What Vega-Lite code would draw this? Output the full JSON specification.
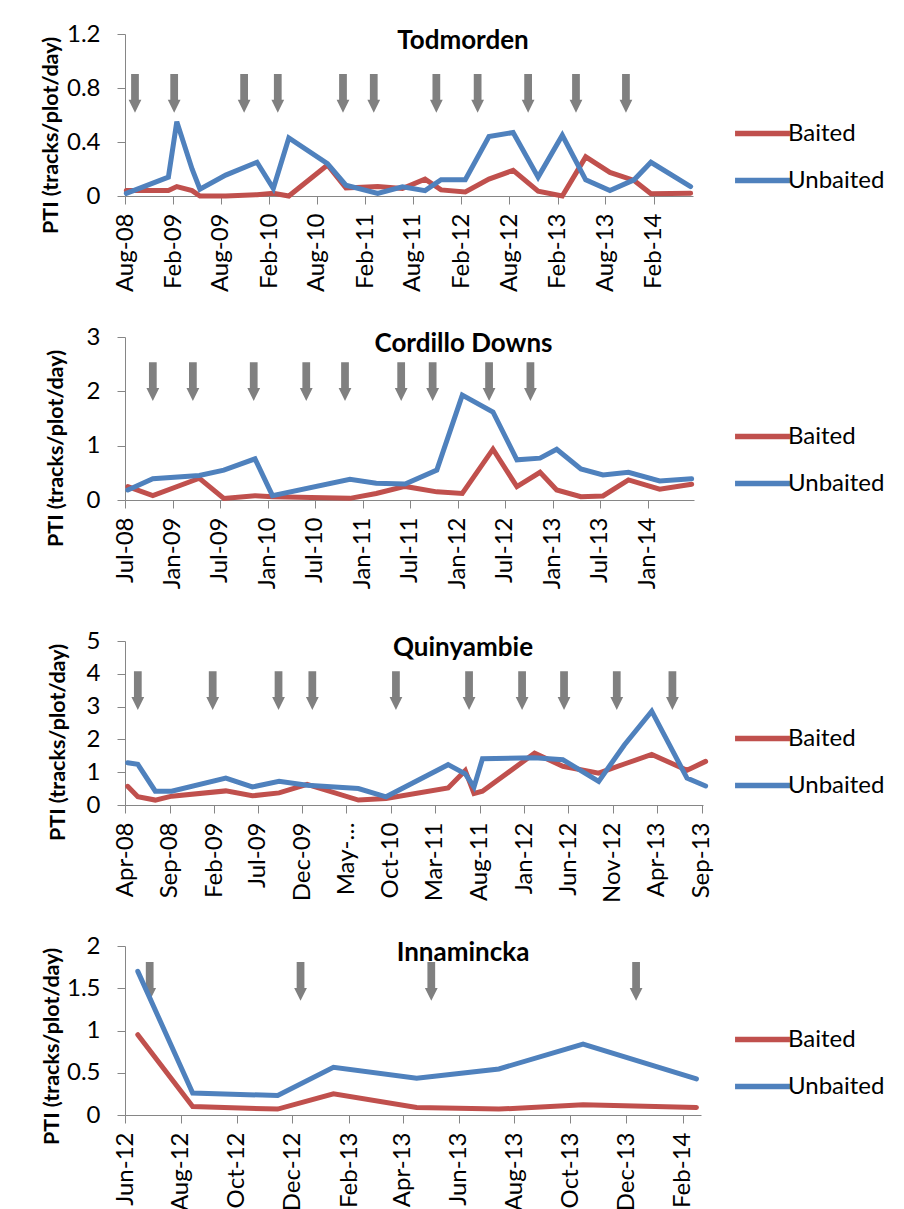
{
  "$schema": "https://vega.github.io/schema/vega-lite/v6.json",
  "background": "white",
  "padding": {"left": 39, "top": 22, "right": 5, "bottom": 5},
  "columns": 1,
  "bounds": "flush",
  "spacing": 141,
  "resolve": {"scale": {"color": "independent"}, "legend": {"color": "independent"}},
  "datasets": {
    "tod": [
      {"date": "2008-08-06", "series": "Baited", "pti": 0.04}, {"date": "2008-08-06", "series": "Unbaited", "pti": 0.02},
      {"date": "2009-01-13", "series": "Baited", "pti": 0.04}, {"date": "2009-01-13", "series": "Unbaited", "pti": 0.14},
      {"date": "2009-02-14", "series": "Baited", "pti": 0.07}, {"date": "2009-02-14", "series": "Unbaited", "pti": 0.55},
      {"date": "2009-04-13", "series": "Baited", "pti": 0.04}, {"date": "2009-04-13", "series": "Unbaited", "pti": 0.2},
      {"date": "2009-05-13", "series": "Baited", "pti": 0.0}, {"date": "2009-05-13", "series": "Unbaited", "pti": 0.05},
      {"date": "2009-08-19", "series": "Baited", "pti": 0.0}, {"date": "2009-08-19", "series": "Unbaited", "pti": 0.155},
      {"date": "2009-12-16", "series": "Baited", "pti": 0.01}, {"date": "2009-12-16", "series": "Unbaited", "pti": 0.25},
      {"date": "2010-02-16", "series": "Baited", "pti": 0.02}, {"date": "2010-02-16", "series": "Unbaited", "pti": 0.055},
      {"date": "2010-04-16", "series": "Baited", "pti": 0.0}, {"date": "2010-04-16", "series": "Unbaited", "pti": 0.43},
      {"date": "2010-09-10", "series": "Baited", "pti": 0.23}, {"date": "2010-09-10", "series": "Unbaited", "pti": 0.24},
      {"date": "2010-11-19", "series": "Baited", "pti": 0.06}, {"date": "2010-11-19", "series": "Unbaited", "pti": 0.08},
      {"date": "2011-03-20", "series": "Baited", "pti": 0.07}, {"date": "2011-03-20", "series": "Unbaited", "pti": 0.02},
      {"date": "2011-06-22", "series": "Baited", "pti": 0.055}, {"date": "2011-06-22", "series": "Unbaited", "pti": 0.068},
      {"date": "2011-09-16", "series": "Baited", "pti": 0.125}, {"date": "2011-09-16", "series": "Unbaited", "pti": 0.04},
      {"date": "2011-11-16", "series": "Baited", "pti": 0.045}, {"date": "2011-11-16", "series": "Unbaited", "pti": 0.12},
      {"date": "2012-02-16", "series": "Baited", "pti": 0.03}, {"date": "2012-02-16", "series": "Unbaited", "pti": 0.12},
      {"date": "2012-05-16", "series": "Baited", "pti": 0.125}, {"date": "2012-05-16", "series": "Unbaited", "pti": 0.44},
      {"date": "2012-08-16", "series": "Baited", "pti": 0.19}, {"date": "2012-08-16", "series": "Unbaited", "pti": 0.47},
      {"date": "2012-11-19", "series": "Baited", "pti": 0.035}, {"date": "2012-11-19", "series": "Unbaited", "pti": 0.14},
      {"date": "2013-02-19", "series": "Baited", "pti": 0.0}, {"date": "2013-02-19", "series": "Unbaited", "pti": 0.45},
      {"date": "2013-05-19", "series": "Baited", "pti": 0.29}, {"date": "2013-05-19", "series": "Unbaited", "pti": 0.12},
      {"date": "2013-08-19", "series": "Baited", "pti": 0.175}, {"date": "2013-08-19", "series": "Unbaited", "pti": 0.04},
      {"date": "2013-11-19", "series": "Baited", "pti": 0.115}, {"date": "2013-11-19", "series": "Unbaited", "pti": 0.12},
      {"date": "2014-01-22", "series": "Baited", "pti": 0.017}, {"date": "2014-01-22", "series": "Unbaited", "pti": 0.25},
      {"date": "2014-06-22", "series": "Baited", "pti": 0.02}, {"date": "2014-06-22", "series": "Unbaited", "pti": 0.07}
    ],
    "tod_arrows": [
      {"date": "2008-09-08"}, {"date": "2009-02-04"}, {"date": "2009-10-28"}, {"date": "2010-03-05"},
      {"date": "2010-11-08"}, {"date": "2011-03-05"}, {"date": "2011-10-29"}, {"date": "2012-04-03"},
      {"date": "2012-10-12"}, {"date": "2013-04-12"}, {"date": "2013-10-19"}
    ],
    "cor": [
      {"date": "2008-07-12", "series": "Baited", "pti": 0.245}, {"date": "2008-07-12", "series": "Unbaited", "pti": 0.185},
      {"date": "2008-10-16", "series": "Baited", "pti": 0.08}, {"date": "2008-10-16", "series": "Unbaited", "pti": 0.39},
      {"date": "2009-04-13", "series": "Baited", "pti": 0.4}, {"date": "2009-04-13", "series": "Unbaited", "pti": 0.45},
      {"date": "2009-07-16", "series": "Baited", "pti": 0.03}, {"date": "2009-07-16", "series": "Unbaited", "pti": 0.55},
      {"date": "2009-11-13", "series": "Baited", "pti": 0.08}, {"date": "2009-11-13", "series": "Unbaited", "pti": 0.757},
      {"date": "2010-01-19", "series": "Baited", "pti": 0.06}, {"date": "2010-01-19", "series": "Unbaited", "pti": 0.08},
      {"date": "2010-11-13", "series": "Baited", "pti": 0.03}, {"date": "2010-11-13", "series": "Unbaited", "pti": 0.38},
      {"date": "2011-02-22", "series": "Baited", "pti": 0.12}, {"date": "2011-02-22", "series": "Unbaited", "pti": 0.31},
      {"date": "2011-06-13", "series": "Baited", "pti": 0.25}, {"date": "2011-06-13", "series": "Unbaited", "pti": 0.295},
      {"date": "2011-10-13", "series": "Baited", "pti": 0.15}, {"date": "2011-10-13", "series": "Unbaited", "pti": 0.55},
      {"date": "2012-01-19", "series": "Baited", "pti": 0.12}, {"date": "2012-01-19", "series": "Unbaited", "pti": 1.93},
      {"date": "2012-05-16", "series": "Baited", "pti": 0.935}, {"date": "2012-05-16", "series": "Unbaited", "pti": 1.62},
      {"date": "2012-08-16", "series": "Baited", "pti": 0.245}, {"date": "2012-08-16", "series": "Unbaited", "pti": 0.74},
      {"date": "2012-11-13", "series": "Baited", "pti": 0.51}, {"date": "2012-11-13", "series": "Unbaited", "pti": 0.77},
      {"date": "2013-01-16", "series": "Baited", "pti": 0.185}, {"date": "2013-01-16", "series": "Unbaited", "pti": 0.935},
      {"date": "2013-04-19", "series": "Baited", "pti": 0.06}, {"date": "2013-04-19", "series": "Unbaited", "pti": 0.57},
      {"date": "2013-07-13", "series": "Baited", "pti": 0.075}, {"date": "2013-07-13", "series": "Unbaited", "pti": 0.46},
      {"date": "2013-10-19", "series": "Baited", "pti": 0.37}, {"date": "2013-10-19", "series": "Unbaited", "pti": 0.51},
      {"date": "2014-02-16", "series": "Baited", "pti": 0.2}, {"date": "2014-02-16", "series": "Unbaited", "pti": 0.35},
      {"date": "2014-06-19", "series": "Baited", "pti": 0.29}, {"date": "2014-06-19", "series": "Unbaited", "pti": 0.39}
    ],
    "cor_arrows": [
      {"date": "2008-10-16"}, {"date": "2009-03-19"}, {"date": "2009-11-08"}, {"date": "2010-05-29"},
      {"date": "2010-10-25"}, {"date": "2011-05-29"}, {"date": "2011-09-27"}, {"date": "2012-05-01"},
      {"date": "2012-10-07"}
    ],
    "qui": [
      {"date": "2008-04-10", "series": "Baited", "pti": 0.57}, {"date": "2008-04-10", "series": "Unbaited", "pti": 1.29},
      {"date": "2008-05-15", "series": "Baited", "pti": 0.25}, {"date": "2008-05-15", "series": "Unbaited", "pti": 1.24},
      {"date": "2008-07-14", "series": "Baited", "pti": 0.15}, {"date": "2008-07-14", "series": "Unbaited", "pti": 0.42},
      {"date": "2008-09-08", "series": "Baited", "pti": 0.27}, {"date": "2008-09-08", "series": "Unbaited", "pti": 0.42},
      {"date": "2009-03-13", "series": "Baited", "pti": 0.43}, {"date": "2009-03-13", "series": "Unbaited", "pti": 0.82},
      {"date": "2009-06-12", "series": "Baited", "pti": 0.28}, {"date": "2009-06-12", "series": "Unbaited", "pti": 0.55},
      {"date": "2009-09-12", "series": "Baited", "pti": 0.37}, {"date": "2009-09-12", "series": "Unbaited", "pti": 0.72},
      {"date": "2009-12-17", "series": "Baited", "pti": 0.63}, {"date": "2009-12-17", "series": "Unbaited", "pti": 0.6},
      {"date": "2010-06-11", "series": "Baited", "pti": 0.15}, {"date": "2010-06-11", "series": "Unbaited", "pti": 0.5},
      {"date": "2010-09-14", "series": "Baited", "pti": 0.2}, {"date": "2010-09-14", "series": "Unbaited", "pti": 0.25},
      {"date": "2011-04-15", "series": "Baited", "pti": 0.52}, {"date": "2011-04-15", "series": "Unbaited", "pti": 1.23},
      {"date": "2011-06-13", "series": "Baited", "pti": 1.05}, {"date": "2011-06-13", "series": "Unbaited", "pti": 0.95},
      {"date": "2011-07-13", "series": "Baited", "pti": 0.35}, {"date": "2011-07-13", "series": "Unbaited", "pti": 0.55},
      {"date": "2011-08-11", "series": "Baited", "pti": 0.42}, {"date": "2011-08-11", "series": "Unbaited", "pti": 1.41},
      {"date": "2012-02-06", "series": "Baited", "pti": 1.58}, {"date": "2012-02-06", "series": "Unbaited", "pti": 1.44},
      {"date": "2012-05-13", "series": "Baited", "pti": 1.18}, {"date": "2012-05-13", "series": "Unbaited", "pti": 1.38},
      {"date": "2012-09-13", "series": "Baited", "pti": 0.97}, {"date": "2012-09-13", "series": "Unbaited", "pti": 0.72},
      {"date": "2012-12-10", "series": "Baited", "pti": 1.25}, {"date": "2012-12-10", "series": "Unbaited", "pti": 1.83},
      {"date": "2013-03-14", "series": "Baited", "pti": 1.54}, {"date": "2013-03-14", "series": "Unbaited", "pti": 2.86},
      {"date": "2013-07-13", "series": "Baited", "pti": 1.06}, {"date": "2013-07-13", "series": "Unbaited", "pti": 0.82},
      {"date": "2013-09-15", "series": "Baited", "pti": 1.33}, {"date": "2013-09-15", "series": "Unbaited", "pti": 0.58}
    ],
    "qui_arrows": [
      {"date": "2008-05-15"}, {"date": "2009-01-27"}, {"date": "2009-09-10"}, {"date": "2010-01-04"},
      {"date": "2010-10-18"}, {"date": "2011-06-26"}, {"date": "2011-12-25"}, {"date": "2012-05-17"},
      {"date": "2012-11-14"}, {"date": "2013-05-24"}
    ],
    "inn": [
      {"date": "2012-06-15", "series": "Baited", "pti": 0.95}, {"date": "2012-06-15", "series": "Unbaited", "pti": 1.7},
      {"date": "2012-08-14", "series": "Baited", "pti": 0.1}, {"date": "2012-08-14", "series": "Unbaited", "pti": 0.26},
      {"date": "2012-11-15", "series": "Baited", "pti": 0.07}, {"date": "2012-11-15", "series": "Unbaited", "pti": 0.23},
      {"date": "2013-01-15", "series": "Baited", "pti": 0.25}, {"date": "2013-01-15", "series": "Unbaited", "pti": 0.565},
      {"date": "2013-04-16", "series": "Baited", "pti": 0.09}, {"date": "2013-04-16", "series": "Unbaited", "pti": 0.435},
      {"date": "2013-07-15", "series": "Baited", "pti": 0.07}, {"date": "2013-07-15", "series": "Unbaited", "pti": 0.545},
      {"date": "2013-10-15", "series": "Baited", "pti": 0.12}, {"date": "2013-10-15", "series": "Unbaited", "pti": 0.84},
      {"date": "2014-02-16", "series": "Baited", "pti": 0.09}, {"date": "2014-02-16", "series": "Unbaited", "pti": 0.427}
    ],
    "inn_arrows": [
      {"date": "2012-06-28"}, {"date": "2012-12-10"}, {"date": "2013-05-02"}, {"date": "2013-12-12"}
    ]
  },
  "concat": [
    {
      "width": 568, "height": 162,
      "title": {"text": "Todmorden", "dx": 54},
      "layer": [
        {
          "data": {"name": "tod_arrows"},
          "mark": {"type": "point", "shape": "M-0.2,-1L0.2,-1L0.2,0.33L0.33,0.33L0,1L-0.33,0.33L-0.2,0.33Z", "filled": true, "color": "#808080", "opacity": 1, "size": 1500, "strokeWidth": 0},
          "encoding": {"x": {"field": "date", "type": "temporal"},
            "y": {"datum": 0.76, "type": "quantitative", "axis": {"title": "PTI (tracks/plot/day)", "values": [0, 0.4, 0.8, 1.2], "format": "~g", "labelOverlap": false, "titleX": -74, "titleY": 101}}}
        },
        {
          "data": {"name": "tod"},
          "mark": {"type": "line", "strokeWidth": 5, "strokeCap": "round"},
          "encoding": {
            "x": {"field": "date", "type": "temporal",
              "scale": {"domain": [{"year": 2008, "month": 8, "date": 1}, {"year": 2014, "month": 7, "date": 1}]},
              "axis": {"title": null, "format": "%b-%y", "values": [
                {"year": 2008, "month": 8, "date": 1}, {"year": 2009, "month": 2, "date": 1}, {"year": 2009, "month": 8, "date": 1},
                {"year": 2010, "month": 2, "date": 1}, {"year": 2010, "month": 8, "date": 1}, {"year": 2011, "month": 2, "date": 1},
                {"year": 2011, "month": 8, "date": 1}, {"year": 2012, "month": 2, "date": 1}, {"year": 2012, "month": 8, "date": 1},
                {"year": 2013, "month": 2, "date": 1}, {"year": 2013, "month": 8, "date": 1}, {"year": 2014, "month": 2, "date": 1}]}},
            "y": {"field": "pti", "type": "quantitative", "scale": {"domain": [0, 1.2], "nice": false},
              "axis": {"title": "PTI (tracks/plot/day)", "values": [0, 0.4, 0.8, 1.2], "format": "~g", "labelOverlap": false, "titleX": -74, "titleY": 101}},
            "color": {"field": "series", "type": "nominal",
              "scale": {"domain": ["Baited", "Unbaited"], "range": ["#C0504D", "#4F81BD"]},
              "legend": {"legendX": 612, "legendY": 74}}
          }
        }
      ]
    },
    {
      "width": 569, "height": 163,
      "title": {"text": "Cordillo Downs", "dx": 54},
      "layer": [
        {
          "data": {"name": "cor_arrows"},
          "mark": {"type": "point", "shape": "M-0.2,-1L0.2,-1L0.2,0.33L0.33,0.33L0,1L-0.33,0.33L-0.2,0.33Z", "filled": true, "color": "#808080", "opacity": 1, "size": 1500, "strokeWidth": 0},
          "encoding": {"x": {"field": "date", "type": "temporal"},
            "y": {"datum": 2.18, "type": "quantitative", "axis": {"title": "PTI (tracks/plot/day)", "values": [0, 1, 2, 3], "format": "~g", "labelOverlap": false, "titleX": -69, "titleY": 111}}}
        },
        {
          "data": {"name": "cor"},
          "mark": {"type": "line", "strokeWidth": 5, "strokeCap": "round"},
          "encoding": {
            "x": {"field": "date", "type": "temporal",
              "scale": {"domain": [{"year": 2008, "month": 7, "date": 1}, {"year": 2014, "month": 6, "date": 28}]},
              "axis": {"title": null, "format": "%b-%y", "values": [
                {"year": 2008, "month": 7, "date": 1}, {"year": 2009, "month": 1, "date": 1}, {"year": 2009, "month": 7, "date": 1},
                {"year": 2010, "month": 1, "date": 1}, {"year": 2010, "month": 7, "date": 1}, {"year": 2011, "month": 1, "date": 1},
                {"year": 2011, "month": 7, "date": 1}, {"year": 2012, "month": 1, "date": 1}, {"year": 2012, "month": 7, "date": 1},
                {"year": 2013, "month": 1, "date": 1}, {"year": 2013, "month": 7, "date": 1}, {"year": 2014, "month": 1, "date": 1}]}},
            "y": {"field": "pti", "type": "quantitative", "scale": {"domain": [0, 3], "nice": false},
              "axis": {"title": "PTI (tracks/plot/day)", "values": [0, 1, 2, 3], "format": "~g", "labelOverlap": false, "titleX": -69, "titleY": 111}},
            "color": {"field": "series", "type": "nominal",
              "scale": {"domain": ["Baited", "Unbaited"], "range": ["#C0504D", "#4F81BD"]},
              "legend": {"legendX": 612, "legendY": 74}}
          }
        }
      ]
    },
    {
      "width": 578, "height": 164,
      "title": {"text": "Quinyambie", "dx": 49},
      "layer": [
        {
          "data": {"name": "qui_arrows"},
          "mark": {"type": "point", "shape": "M-0.2,-1L0.2,-1L0.2,0.33L0.33,0.33L0,1L-0.33,0.33L-0.2,0.33Z", "filled": true, "color": "#808080", "opacity": 1, "size": 1500, "strokeWidth": 0},
          "encoding": {"x": {"field": "date", "type": "temporal"},
            "y": {"datum": 3.49, "type": "quantitative", "axis": {"title": "PTI (tracks/plot/day)", "values": [0, 1, 2, 3, 4, 5], "format": "~g", "labelOverlap": false, "titleX": -67, "titleY": 101}}}
        },
        {
          "data": {"name": "qui"},
          "mark": {"type": "line", "strokeWidth": 5, "strokeCap": "round"},
          "encoding": {
            "x": {"field": "date", "type": "temporal",
              "scale": {"domain": [{"year": 2008, "month": 4, "date": 1}, {"year": 2013, "month": 9, "date": 6}]},
              "axis": {"title": null, "format": "%b-%y",
                "labelExpr": "timeFormat(datum.value, '%b-%y') == 'May-10' ? 'May-…' : timeFormat(datum.value, '%b-%y')",
                "values": [
                {"year": 2008, "month": 4, "date": 1}, {"year": 2008, "month": 9, "date": 1}, {"year": 2009, "month": 2, "date": 1},
                {"year": 2009, "month": 7, "date": 1}, {"year": 2009, "month": 12, "date": 1}, {"year": 2010, "month": 5, "date": 1},
                {"year": 2010, "month": 10, "date": 1}, {"year": 2011, "month": 3, "date": 1}, {"year": 2011, "month": 8, "date": 1},
                {"year": 2012, "month": 1, "date": 1}, {"year": 2012, "month": 6, "date": 1}, {"year": 2012, "month": 11, "date": 1},
                {"year": 2013, "month": 4, "date": 1}, {"year": 2013, "month": 9, "date": 1}]}},
            "y": {"field": "pti", "type": "quantitative", "scale": {"domain": [0, 5], "nice": false},
              "axis": {"title": "PTI (tracks/plot/day)", "values": [0, 1, 2, 3, 4, 5], "format": "~g", "labelOverlap": false, "titleX": -67, "titleY": 101}},
            "color": {"field": "series", "type": "nominal",
              "scale": {"domain": ["Baited", "Unbaited"], "range": ["#C0504D", "#4F81BD"]},
              "legend": {"legendX": 612, "legendY": 72}}
          }
        }
      ]
    },
    {
      "width": 576, "height": 169,
      "title": {"text": "Innamincka", "dx": 50},
      "layer": [
        {
          "data": {"name": "inn_arrows"},
          "mark": {"type": "point", "shape": "M-0.2,-1L0.2,-1L0.2,0.33L0.33,0.33L0,1L-0.33,0.33L-0.2,0.33Z", "filled": true, "color": "#808080", "opacity": 1, "size": 1500, "strokeWidth": 0},
          "encoding": {"x": {"field": "date", "type": "temporal"},
            "y": {"datum": 1.58, "type": "quantitative", "axis": {"title": "PTI (tracks/plot/day)", "values": [0, 0.5, 1, 1.5, 2], "format": "~g", "labelOverlap": false, "titleX": -73, "titleY": 100}}}
        },
        {
          "data": {"name": "inn"},
          "mark": {"type": "line", "strokeWidth": 5, "strokeCap": "round"},
          "encoding": {
            "x": {"field": "date", "type": "temporal",
              "scale": {"domain": [{"year": 2012, "month": 6, "date": 1}, {"year": 2014, "month": 2, "date": 21}]},
              "axis": {"title": null, "format": "%b-%y", "values": [
                {"year": 2012, "month": 6, "date": 1}, {"year": 2012, "month": 8, "date": 1}, {"year": 2012, "month": 10, "date": 1},
                {"year": 2012, "month": 12, "date": 1}, {"year": 2013, "month": 2, "date": 1}, {"year": 2013, "month": 4, "date": 1},
                {"year": 2013, "month": 6, "date": 1}, {"year": 2013, "month": 8, "date": 1}, {"year": 2013, "month": 10, "date": 1},
                {"year": 2013, "month": 12, "date": 1}, {"year": 2014, "month": 2, "date": 1}]}},
            "y": {"field": "pti", "type": "quantitative", "scale": {"domain": [0, 2], "nice": false},
              "axis": {"title": "PTI (tracks/plot/day)", "values": [0, 0.5, 1, 1.5, 2], "format": "~g", "labelOverlap": false, "titleX": -73, "titleY": 100}},
            "color": {"field": "series", "type": "nominal",
              "scale": {"domain": ["Baited", "Unbaited"], "range": ["#C0504D", "#4F81BD"]},
              "legend": {"legendX": 612, "legendY": 68}}
          }
        }
      ]
    }
  ],
  "config": {
    "font": "Lato",
    "view": {"stroke": null},
    "axis": {"grid": false, "domainColor": "#868686", "tickColor": "#868686", "tickSize": 8, "labelColor": "#000000", "labelFont": "Lato", "titleFont": "Lato", "titleColor": "#000000"},
    "axisX": {"labelAngle": -90, "labelFontSize": 24, "labelPadding": 9},
    "axisY": {"labelFontSize": 24, "labelPadding": 17, "labelOverlap": false, "titleFontSize": 21.5, "titleFontWeight": "bold", "titleBaseline": "middle"},
    "legend": {"orient": "none", "title": null, "symbolType": "M-1.22,0L1.22,0", "symbolSize": 2025, "symbolStrokeWidth": 5.5, "labelFontSize": 24, "labelFont": "Lato", "labelColor": "#000000", "labelOffset": 0, "rowPadding": 9, "padding": 0},
    "title": {"font": "Lato", "fontSize": 26, "fontWeight": "bold", "color": "#000000", "frame": "group", "anchor": "middle", "offset": -32}
  }
}
